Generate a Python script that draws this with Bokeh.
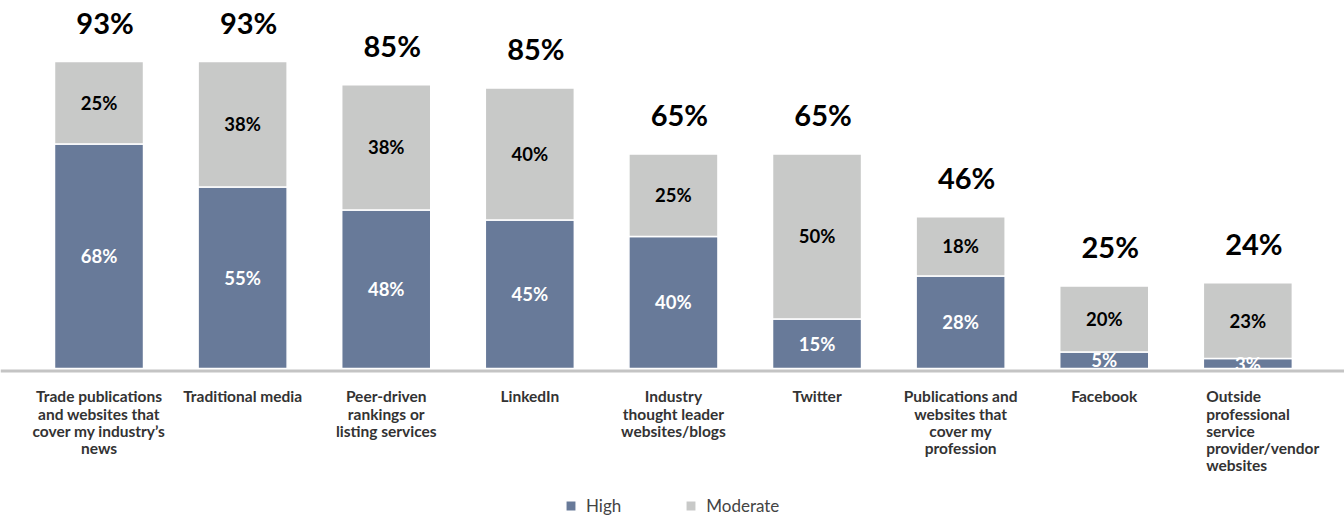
from bokeh.plotting import figure
from bokeh.models import ColumnDataSource, Range1d, Span, Legend, LegendItem
from bokeh.core.properties import value
from bokeh.embed import file_html
from bokeh.resources import INLINE

# ---- data ----
categories = [
    "Trade publications\nand websites that\ncover my industry\u2019s\nnews",
    "Traditional media",
    "Peer-driven\nrankings or\nlisting services",
    "LinkedIn",
    "Industry\nthought leader\nwebsites/blogs",
    "Twitter",
    "Publications and\nwebsites that\ncover my\nprofession",
    "Facebook",
    "Outside\nprofessional\nservice\nprovider/vendor\nwebsites",
]
high = [68, 55, 48, 45, 40, 15, 28, 5, 3]
moderate = [25, 38, 38, 40, 25, 50, 18, 20, 23]
totals = [93, 93, 85, 85, 65, 65, 46, 25, 24]
series_names = ["High", "Moderate"]

HIGH_COLOR = "#687a99"
MOD_COLOR = "#c8c9c8"
FONT = "Lato"

n = len(categories)
xs = list(range(n))
tops = [h + m for h, m in zip(high, moderate)]
src = ColumnDataSource(dict(
    x=xs,
    high=high,
    moderate=moderate,
    top=tops,
    high_mid=[h / 2 for h in high],
    mod_mid=[h + m / 2 for h, m in zip(high, moderate)],
    high_lbl=[f"{v}%" for v in high],
    mod_lbl=[f"{v}%" for v in moderate],
    tot_lbl=[f"{v}%" for v in totals],
    cat=categories,
    align=["left" if i == n - 1 else "center" for i in xs],
    xl=[i - 0.29 if i == n - 1 else i for i in xs],
))

p = figure(width=1344, height=519, output_backend="svg", toolbar_location=None,
           x_range=Range1d(-0.686, 8.673), y_range=Range1d(-45.76, 111.5),
           min_border=0, outline_line_color=None)
p.axis.visible = False
p.grid.visible = False

# baseline
p.add_layout(Span(location=-0.75, dimension="width", line_color="#c4c4c4", line_width=3))

w = 0.62
r_high = p.vbar(x="x", bottom=0, top="high", width=w, source=src,
                fill_color=HIGH_COLOR, line_color="white", line_width=1.5)
r_mod = p.vbar(x="x", bottom="high", top="top", width=w, source=src,
               fill_color=MOD_COLOR, line_color="white", line_width=1.5)

# segment labels
p.text(x="x", y="high_mid", text="high_lbl", source=src, text_align="center",
       text_baseline="middle", text_color="white", text_font=value(FONT),
       text_font_style="bold", text_font_size="18.5px")
p.text(x="x", y="mod_mid", text="mod_lbl", source=src, text_align="center",
       text_baseline="middle", text_color="black", text_font=value(FONT),
       text_font_style="bold", text_font_size="18.5px")

# totals
p.text(x="x", y="top", text="tot_lbl", source=src, text_align="center",
       text_baseline="alphabetic", x_offset=6, y_offset=-39, text_color="black",
       text_font=value(FONT), text_font_style="bold", text_font_size="29px")

# category labels
p.text(x="xl", y=0, text="cat", source=src, text_align="align",
       text_baseline="top", y_offset=19, text_color="#333333",
       text_font=value(FONT), text_font_style="bold", text_font_size="15.5px",
       text_line_height=0.95)

legend = Legend(items=[LegendItem(label=series_names[0], renderers=[r_high]),
                       LegendItem(label=series_names[1], renderers=[r_mod])],
                orientation="horizontal", location=(564, 3),
                glyph_width=13, glyph_height=13, label_standoff=9, spacing=63,
                padding=0, margin=0, border_line_alpha=0, background_fill_alpha=0,
                label_text_font=FONT, label_text_font_size="17px",
                label_text_color="#444444")
p.add_layout(legend)

open("out.html", "w").write(file_html(p, INLINE))
